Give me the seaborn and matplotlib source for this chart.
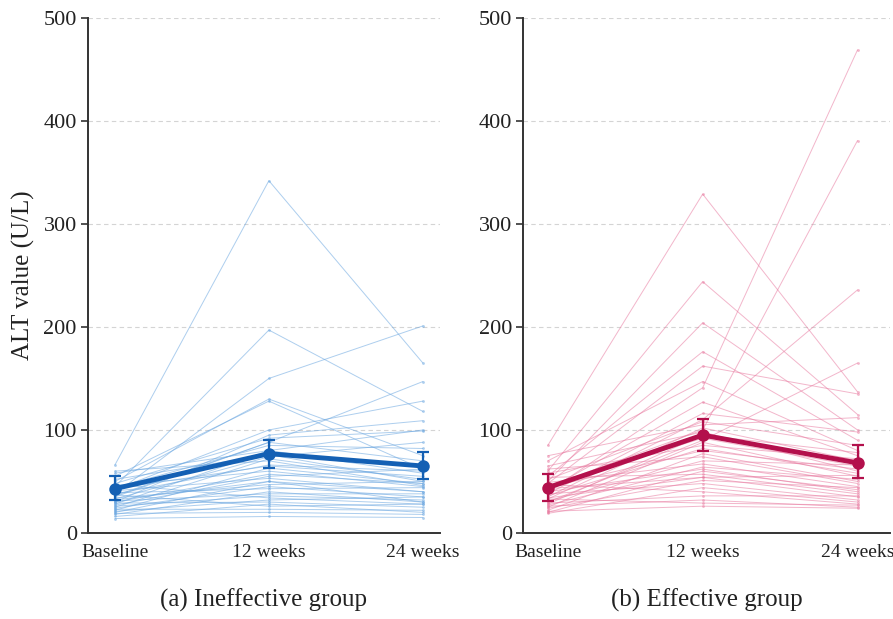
import pandas as pd
import seaborn as sns
import matplotlib.pyplot as plt

# Time points
times = ["Baseline", "12 weeks", "24 weeks"]

# Ineffective group - individual ALT values (U/L)
left_base = [66, 45, 38, 50, 35, 42, 55, 30, 48, 36, 44, 28, 52, 33, 25, 60, 38, 22, 46, 30,
             27, 41, 20, 34, 24, 39, 18, 31, 26, 47, 21, 29, 16, 37, 23, 19, 14, 58, 43, 32]
left_w12 = [342, 197, 150, 130, 88, 100, 128, 95, 92, 88, 85, 80, 76, 74, 72, 70, 66, 63, 60, 57,
            55, 53, 50, 47, 45, 43, 40, 38, 36, 34, 32, 30, 28, 26, 23, 20, 16, 80, 65, 50]
left_w24 = [165, 118, 201, 75, 147, 128, 62, 109, 99, 70, 82, 58, 50, 88, 52, 46, 60, 48, 45, 48,
            62, 40, 40, 50, 35, 44, 30, 38, 32, 28, 35, 25, 20, 28, 22, 18, 15, 100, 55, 30]

# Effective group - individual ALT values (U/L)
right_base = [85, 60, 50, 40, 45, 35, 55, 48, 30, 70, 42, 38, 52, 33, 65, 28, 46, 25, 58, 36,
              44, 22, 62, 31, 49, 27, 40, 20, 54, 34, 43, 24, 38, 19, 47, 29, 26, 33, 21, 75]
right_w12 = [329, 244, 204, 141, 100, 110, 176, 162, 90, 147, 127, 116, 108, 102, 98, 95, 92, 88, 85, 82,
             80, 77, 74, 70, 67, 64, 62, 60, 57, 54, 54, 51, 48, 44, 40, 36, 32, 29, 26, 105]
right_w24 = [137, 115, 100, 469, 381, 236, 90, 135, 165, 80, 75, 98, 85, 70, 60, 78, 65, 55, 72, 58,
             62, 50, 48, 66, 45, 52, 40, 42, 38, 56, 35, 44, 32, 30, 28, 36, 25, 27, 24, 112]

# Group summary (mean with error bar ends)
left_mean = [43, 77, 65]
left_lo = [32, 63, 52]
left_hi = [55, 90, 79]
right_mean = [44, 95, 68]
right_lo = [31, 80, 53]
right_hi = [57, 111, 85]


def long_frame(base, w12, w24):
    rows = []
    for i, vals in enumerate(zip(base, w12, w24)):
        for t, v in zip(times, vals):
            rows.append({"subject": i, "time": t, "value": v})
    return pd.DataFrame(rows)


def summary_frame(mean, lo, hi):
    rows = []
    for t, m, l, h in zip(times, mean, lo, hi):
        for v in (l, m, h):
            rows.append({"time": t, "value": v})
    return pd.DataFrame(rows)


sns.set_theme(style="white")
plt.rcParams["font.family"] = ["Liberation Serif", "DejaVu Serif"]

fig = plt.figure(figsize=(8.93, 6.19), dpi=100)
ax1 = fig.add_axes([0.0985, 0.139, 0.394, 0.832])
ax2 = fig.add_axes([0.5857, 0.139, 0.411, 0.832])

panels = [
    (ax1, left_base, left_w12, left_w24, left_mean, left_lo, left_hi,
     "#6aa6e0", "#1460b4", "(a) Ineffective group", (-0.175, 2.11)),
    (ax2, right_base, right_w12, right_w24, right_mean, right_lo, right_hi,
     "#e87aa0", "#b3104c", "(b) Effective group", (-0.16, 2.21)),
]

for ax, b, w12, w24, mean, lo, hi, light, dark, title, xlim in panels:
    df = long_frame(b, w12, w24)
    sns.lineplot(data=df, x="time", y="value", units="subject", estimator=None,
                 color=light, linewidth=0.7, alpha=0.55, marker="o", markersize=2,
                 markeredgewidth=0, ax=ax)
    summ = summary_frame(mean, lo, hi)
    sns.lineplot(data=summ, x="time", y="value", estimator="median",
                 errorbar=lambda v: (v.min(), v.max()), err_style="bars",
                 err_kws={"capsize": 4, "elinewidth": 1.6, "capthick": 1.6},
                 color=dark, linewidth=3.5, marker="o", markersize=9,
                 markeredgewidth=0, ax=ax)

    ax.set_ylim(0, 500)
    ax.set_xlim(*xlim)
    ax.set_yticks([0, 100, 200, 300, 400, 500])
    ax.yaxis.grid(True, linestyle=(0, (4, 3)), color="#d4d4d4", linewidth=0.8)
    ax.set_axisbelow(True)
    for s in ["top", "right"]:
        ax.spines[s].set_visible(False)
    for s in ["left", "bottom"]:
        ax.spines[s].set_color("#333333")
        ax.spines[s].set_linewidth(1.4)
    ax.tick_params(axis="y", length=5, width=1.2, color="#333333",
                   labelsize=16, left=True, pad=3, labelcolor="#222222")
    ax.tick_params(axis="x", length=0, labelsize=14, pad=8, labelcolor="#222222")
    ax.set_xlabel("")
    ax.set_ylabel("")
    pos = ax.get_position()
    fig.text(pos.x0 + pos.width / 2, 0.012, title, ha="center", va="bottom",
             fontsize=18, color="#222222")

ax1.set_ylabel("ALT value (U/L)", fontsize=18, labelpad=6, color="#222222")

plt.savefig("out.png", dpi=100)
